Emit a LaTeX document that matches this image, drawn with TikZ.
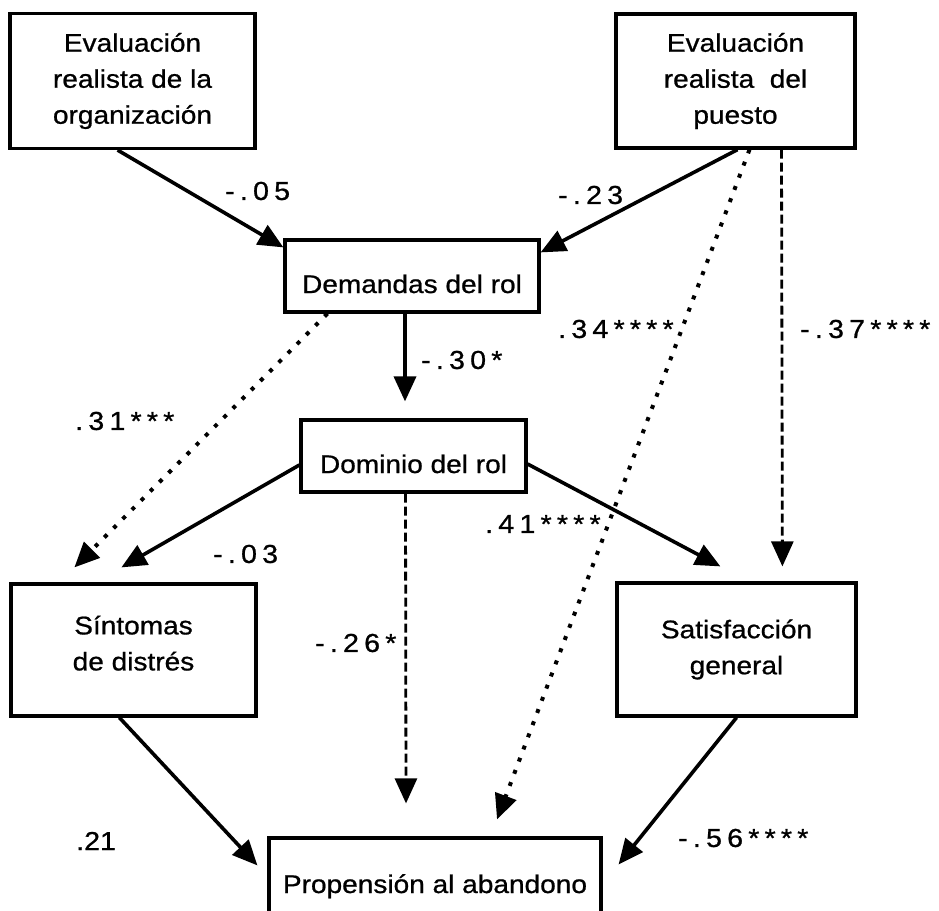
\documentclass[tikz,border=0pt]{standalone}
\usepackage{fontspec}
\setmainfont[FakeStretch=1.1,FakeBold=0.8]{Liberation Sans}
\newfontfamily\coeffont[FakeStretch=1.1,FakeBold=0.8,LetterSpace=20]{Liberation Sans}
\usetikzlibrary{arrows.meta,calc}

\tikzset{
  varbox/.style={draw, line width=3.2pt, inner sep=0pt, align=center,
    font=\fontsize{25.5}{36}\selectfont},
  coef/.style={anchor=west, inner sep=0pt, font=\coeffont\fontsize{26}{30}\selectfont},
  headtip/.style={-{Triangle[length=25pt,width=22pt]}},
  solidarrow/.style={headtip, line width=3.6pt},
  dottedarrow/.style={headtip, line width=4pt, dash pattern=on 4pt off 9pt},
  dashedarrow/.style={headtip, line width=2.8pt, dash pattern=on 9pt off 4pt},
}

\begin{document}
\begin{tikzpicture}[x=1pt, y=-1pt]
  \useasboundingbox (0,0) rectangle (939,910);
  \fill[white] (0,0) rectangle (939,910);
  \clip (0,0) rectangle (939,910);

  % variables
  \node[varbox, minimum width=245pt, minimum height=135pt] (org) at (132.5,81)
    {Evaluación\\realista de la\\organización};
  \node[varbox, minimum width=239pt, minimum height=134pt] (pue) at (735.5,81)
    {Evaluación\\realista\ \ del\\puesto};
  \node[varbox, minimum width=254pt, minimum height=72pt, text height=34pt, text depth=0pt]
    (dem) at (412,276) {Demandas del rol};
  \node[varbox, minimum width=225pt, minimum height=72pt, text height=34pt, text depth=0pt]
    (dom) at (413.5,456) {Dominio del rol};
  \node[varbox, minimum width=245pt, minimum height=132pt] (sin) at (133.5,650)
    {Síntomas\\de distrés\rule[-14pt]{0pt}{14pt}};
  \node[varbox, minimum width=239pt, minimum height=133pt] (sat) at (736.5,649.5)
    {Satisfacción\\general};
  \node[varbox, minimum width=332pt, minimum height=90pt, text height=20pt, text depth=0pt]
    (pro) at (435,883) {Propensión al abandono};

  % paths
  \draw[solidarrow] ($(org.south west)!0.44!(org.south east)$) -- ($(dem.north west)+(0,9)$);
  \draw[solidarrow] ($(pue.south)+(2,0)$) -- ($(dem.north east)+(0,14)$);
  \draw[solidarrow] ($(dem.south)+(-7,0)$) -- ($(dom.north)+(-8.5,-17)$);
  \draw[dottedarrow] ($(dem.south west)+(44,0)$) -- ($(sin.north west)+(65,-15)$);
  \draw[solidarrow] ($(dom.west)+(0,9)$) -- ($(sin.north west)+(112,-15)$);
  \draw[solidarrow] ($(dom.east)+(0,8)$) -- ($(sat.north west)+(105,-15)$);
  \draw[dashedarrow] ($(dom.south)+(-8,0)$) -- ($(pro.north)+(-29,-33)$);
  \draw[dottedarrow] ($(pue.south)+(14,0)$) -- ($(pro.north)+(62,-17)$);
  \draw[dashedarrow] ($(pue.south)+(46,0)$) -- ($(sat.north west)+(167,-15)$);
  \draw[solidarrow] ($(sin.south west)+(110,0)$) -- ($(pro.north west)+(-10,29)$);
  \draw[solidarrow] (sat.south) -- ($(pro.north east)+(16,28)$);

  % coefficients
  \node[coef] (c1) at (225,191) {-.05};
  \node[coef] (c2) at (558,195) {-.23};
  \node[coef] (c3) at (421,360) {-.30*};
  \node[coef] (c4) at (75,421) {.31***};
  \node[coef] (c5) at (213,554) {-.03};
  \node[coef] (c6) at (558,329) {.34****};
  \node[coef] (c7) at (800,329) {-.37****};
  \node[coef] (c8) at (485,524) {.41****};
  \node[coef] (c9) at (315,643) {-.26*};
  \node[coef, font=\fontsize{26}{30}\selectfont] (c10) at (76,841) {.21};
  \node[coef] (c11) at (678,838) {-.56****};
\end{tikzpicture}
\end{document}
